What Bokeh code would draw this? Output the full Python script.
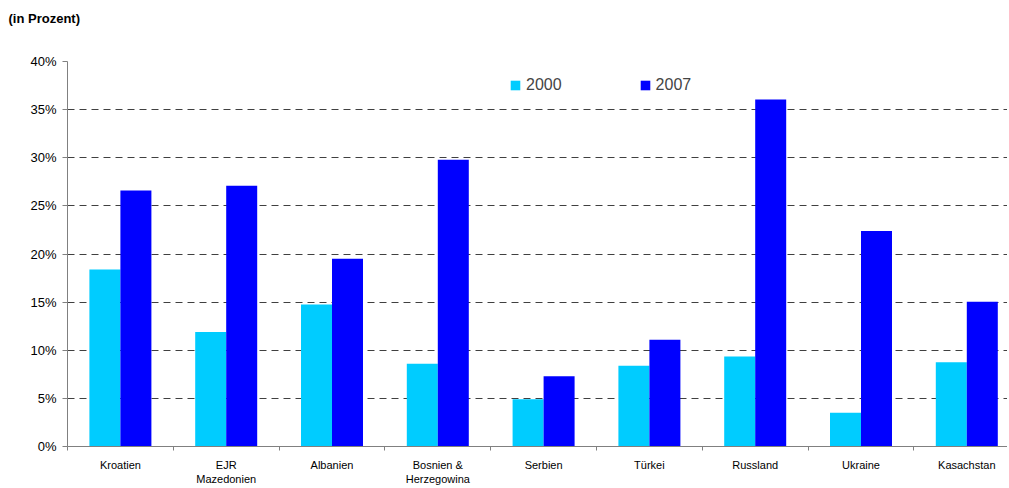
from bokeh.plotting import figure
from bokeh.models import FixedTicker, Legend, LegendItem, Range1d, ColumnDataSource, Title
from bokeh.embed import file_html
from bokeh.resources import INLINE

categories = ["Kroatien", "EJR\nMazedonien", "Albanien", "Bosnien &\nHerzegowina",
              "Serbien", "Türkei", "Russland", "Ukraine", "Kasachstan"]
v2000 = [18.4, 11.9, 14.75, 8.6, 4.9, 8.4, 9.35, 3.5, 8.75]
v2007 = [26.6, 27.1, 19.5, 29.8, 7.3, 11.1, 36.05, 22.4, 15.05]
yticks = [0, 5, 10, 15, 20, 25, 30, 35, 40]
series = ["2000", "2007"]
colors = ["#00CCFF", "#0000FF"]

FONT = "Liberation Sans"
n = len(categories)
centers = [i + 0.5 for i in range(n)]
bw = 0.293

p = figure(frame_width=940, frame_height=385, output_backend="svg", toolbar_location=None,
           x_range=Range1d(0, 940 / 105.8), y_range=Range1d(0, 40),
           min_border_left=67, min_border_right=0, min_border_top=61, min_border_bottom=42)
p.outline_line_color = None
p.background_fill_color = "white"
p.border_fill_color = "white"

src = ColumnDataSource(dict(x0=[c - bw / 2 for c in centers], x1=[c + bw / 2 for c in centers],
                            a=v2000, b=v2007))
r1 = p.vbar(x="x0", top="a", width=bw, source=src, fill_color=colors[0], line_color=None)
r2 = p.vbar(x="x1", top="b", width=bw, source=src, fill_color=colors[1], line_color=None)

# grid
p.xgrid.visible = False
p.ygrid.ticker = FixedTicker(ticks=yticks)
p.ygrid.grid_line_color = "#404040"
p.ygrid.grid_line_dash = "7 5"
p.ygrid.grid_line_width = 1

# y axis
p.yaxis.ticker = FixedTicker(ticks=yticks)
p.yaxis.major_label_overrides = {t: f"{t}%" for t in yticks}
p.yaxis.major_label_text_font = FONT
p.yaxis.major_label_text_font_size = "13px"
p.yaxis.major_label_text_color = "#000000"
p.yaxis.axis_line_color = "#808080"
p.yaxis.major_tick_line_color = "#808080"
p.yaxis.major_tick_out = 5
p.yaxis.major_tick_in = 0
p.yaxis.minor_tick_line_color = None
p.yaxis.major_label_standoff = 6

# x axis
p.xaxis.ticker = FixedTicker(ticks=centers, minor_ticks=list(range(n + 1)))
p.xaxis.major_label_overrides = {c: lab for c, lab in zip(centers, categories)}
p.xaxis.major_label_text_font = FONT
p.xaxis.major_label_text_font_size = "11px"
p.xaxis.major_label_text_color = "#000000"
p.xaxis.axis_line_color = "#808080"
p.xaxis.major_tick_line_color = None
p.xaxis.minor_tick_line_color = "#808080"
p.xaxis.minor_tick_out = 4
p.xaxis.minor_tick_in = 0
p.xaxis.major_label_standoff = 6

# spacer between frame and title (innermost), then the title above it
spacer = Title(text=" ", text_font_size="1px", standoff=28)
p.add_layout(spacer, "above")
t = Title(text="(in Prozent)", text_font=FONT, text_font_size="13px", text_font_style="bold",
          align="left", offset=-59, standoff=10, text_color="#000000")
p.add_layout(t, "above")

legend = Legend(items=[LegendItem(label=series[0], renderers=[r1]),
                       LegendItem(label=series[1], renderers=[r2])],
                location=(442, 352), orientation="horizontal",
                label_text_font=FONT, label_text_font_size="16px",
                glyph_width=12, glyph_height=12, label_standoff=5, spacing=77,
                padding=0, margin=0, border_line_color=None, background_fill_alpha=0)
p.add_layout(legend)

open("out.html", "w").write(file_html(p, INLINE))
